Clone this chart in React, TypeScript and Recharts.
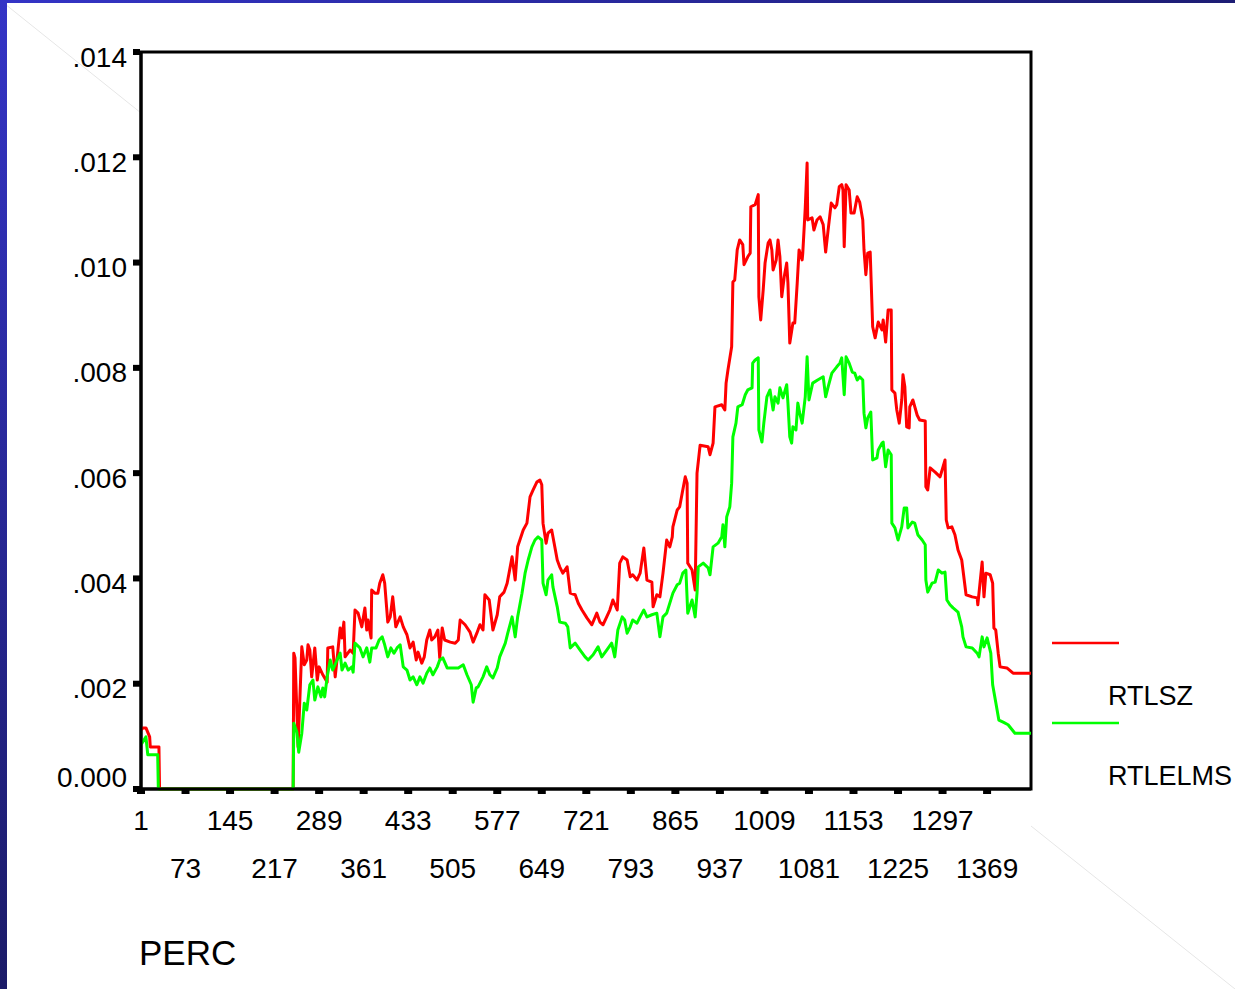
import { LineChart, Line, XAxis, YAxis, ReferenceArea } from "recharts";

const FONT = "'Liberation Sans', Arial, sans-serif";

// PERC positions shown on the axis (every 72nd case)
const percTicks = [
  1, 73, 145, 217, 289, 361, 433, 505, 577, 649, 721, 793, 865, 937, 1009, 1081, 1153, 1225, 1297, 1369,
];
const valueTicks = [0, 0.002, 0.004, 0.006, 0.008, 0.01, 0.012, 0.014];

// RTLSZ (red)
const rtlszPerc = [
  1, 4, 9, 15, 16, 30, 31, 247, 248, 250, 255, 261, 265, 269, 271, 274, 277, 282, 286, 289, 295, 302, 303, 311,
  315, 319, 323, 326, 329, 331, 339, 344, 347, 352, 358, 363, 366, 368, 373, 374, 379, 384, 387, 392, 395, 400,
  404, 408, 413, 420, 425, 431, 436, 441, 446, 449, 455, 459, 463, 468, 471, 476, 481, 484, 488, 492, 501, 509,
  514, 517, 525, 533, 538, 544, 549, 554, 557, 564, 570, 577, 581, 588, 593, 601, 606, 610, 619, 625, 630, 635,
  641, 646, 649, 651, 656, 659, 665, 669, 674, 678, 683, 690, 695, 703, 708, 714, 722, 730, 738, 743, 748, 754,
  759, 764, 771, 775, 780, 787, 792, 796, 803, 808, 814, 819, 827, 829, 835, 840, 845, 851, 856, 860, 861, 868,
  872, 876, 881, 884, 885, 892, 897, 900, 905, 918, 921, 926, 929, 940, 945, 947, 950, 956, 958, 961, 965, 969,
  974, 976, 982, 986, 987, 994, 999, 1000, 1003, 1007, 1010, 1015, 1018, 1021, 1023, 1028, 1031, 1034, 1037,
  1041, 1045, 1047, 1050, 1055, 1058, 1062, 1065, 1070, 1071, 1075, 1078, 1079, 1086, 1089, 1094, 1099, 1104,
  1108, 1112, 1117, 1123, 1126, 1130, 1134, 1136, 1138, 1141, 1146, 1149, 1154, 1159, 1163, 1168, 1170, 1173,
  1176, 1180, 1184, 1188, 1193, 1199, 1201, 1205, 1209, 1214, 1215, 1220, 1223, 1227, 1231, 1233, 1236, 1239,
  1243, 1244, 1249, 1256, 1260, 1269, 1270, 1273, 1277, 1285, 1293, 1301, 1303, 1306, 1312, 1317, 1322, 1328,
  1330, 1335, 1345, 1353, 1354, 1361, 1364, 1367, 1374, 1378, 1380, 1383, 1387, 1390, 1401, 1411, 1440,
];
const rtlszValues = [
  0.00112, 0.00116, 0.00116, 0.00099, 0.0008, 0.0008, 0, 0, 0.00258, 0.00249, 0.0008, 0.0027, 0.00236, 0.00245,
  0.00274, 0.00264, 0.00213, 0.00268, 0.00207, 0.00232, 0.00217, 0.00203, 0.00268, 0.0027, 0.00213, 0.00258,
  0.00306, 0.00287, 0.00317, 0.00251, 0.00264, 0.00258, 0.0034, 0.00334, 0.00308, 0.00344, 0.00302, 0.00321,
  0.00287, 0.00378, 0.00372, 0.00372, 0.00391, 0.00407, 0.00391, 0.00317, 0.00327, 0.00365, 0.00308, 0.00327,
  0.00308, 0.00293, 0.00268, 0.00279, 0.00245, 0.0026, 0.00239, 0.00251, 0.00283, 0.00302, 0.00283, 0.00289,
  0.00302, 0.00249, 0.00306, 0.00283, 0.00279, 0.00277, 0.00283, 0.00321, 0.00312, 0.00298, 0.00279, 0.00296,
  0.00312, 0.00302, 0.00369, 0.00359, 0.00302, 0.00331, 0.00365, 0.00374, 0.00391, 0.00441, 0.00397, 0.0046,
  0.00492, 0.00505, 0.00555, 0.00568, 0.00583, 0.00587, 0.00578, 0.00505, 0.00467, 0.00486, 0.00492, 0.00467,
  0.00435, 0.00422, 0.0041, 0.00422, 0.00372, 0.00369, 0.00353, 0.0034, 0.00325, 0.00312, 0.00334, 0.00317,
  0.00312, 0.00327, 0.0034, 0.00359, 0.0034, 0.00429, 0.00441, 0.00435, 0.00403, 0.00407, 0.00397, 0.0041,
  0.00458, 0.00397, 0.00393, 0.00346, 0.00369, 0.00365, 0.0041, 0.00473, 0.0046, 0.00479, 0.00498, 0.0053,
  0.00536, 0.00562, 0.00593, 0.00581, 0.00429, 0.00416, 0.00378, 0.006, 0.00653, 0.0065, 0.00635, 0.00657,
  0.00726, 0.0073, 0.0072, 0.00771, 0.00796, 0.0084, 0.00963, 0.00967, 0.01024, 0.01043, 0.01034, 0.00996,
  0.01011, 0.01018, 0.01106, 0.0111, 0.01129, 0.00935, 0.00891, 0.00948, 0.00999, 0.01037, 0.01043, 0.01024,
  0.00986, 0.01005, 0.01043, 0.01011, 0.00935, 0.00973, 0.00999, 0.00961, 0.00847, 0.00885, 0.00885, 0.00961,
  0.01024, 0.01005, 0.01018, 0.01104, 0.01189, 0.01081, 0.01085, 0.01062, 0.01081, 0.01087, 0.01072, 0.0102,
  0.01062, 0.01113, 0.01104, 0.0111, 0.01144, 0.01148, 0.01138, 0.0103, 0.01148, 0.01138, 0.01094, 0.01094,
  0.01125, 0.01115, 0.01081, 0.01024, 0.00977, 0.01018, 0.0102, 0.00878, 0.00857, 0.00887, 0.00872, 0.00891,
  0.00849, 0.0091, 0.0091, 0.00758, 0.00752, 0.0072, 0.00695, 0.00739, 0.00787, 0.00764, 0.00688, 0.00686,
  0.00726, 0.00739, 0.0071, 0.00701, 0.00699, 0.00574, 0.00568, 0.0061, 0.00602, 0.00593, 0.00625, 0.00511,
  0.00496, 0.00498, 0.00483, 0.00454, 0.00435, 0.00416, 0.00369, 0.00365, 0.00363, 0.0035, 0.00431, 0.00365,
  0.0041, 0.00407, 0.00391, 0.00306, 0.00302, 0.00258, 0.00232, 0.0023, 0.0022, 0.0022,
];

// RTLELMS (green)
const rtlelmsPerc = [
  1, 9, 12, 28, 29, 247, 248, 253, 256, 261, 265, 269, 274, 279, 282, 287, 292, 295, 298, 302, 307, 311, 318,
  323, 326, 331, 336, 342, 344, 347, 355, 360, 366, 371, 374, 381, 386, 391, 395, 400, 405, 410, 415, 420, 425,
  431, 436, 441, 447, 452, 457, 463, 468, 473, 480, 484, 489, 496, 504, 514, 522, 528, 535, 538, 543, 546, 554,
  560, 565, 570, 577, 581, 590, 594, 601, 606, 610, 617, 622, 627, 633, 638, 643, 649, 651, 656, 659, 665, 667,
  674, 678, 687, 691, 695, 703, 711, 719, 724, 732, 740, 746, 754, 762, 767, 772, 779, 783, 787, 792, 796, 803,
  808, 814, 819, 827, 835, 840, 845, 851, 856, 861, 868, 872, 877, 882, 885, 892, 897, 900, 902, 910, 918, 921,
  926, 934, 940, 942, 945, 948, 953, 956, 958, 963, 966, 973, 978, 982, 989, 990, 994, 999, 1000, 1005, 1008,
  1013, 1018, 1023, 1026, 1031, 1034, 1039, 1045, 1047, 1050, 1053, 1055, 1060, 1063, 1066, 1070, 1075, 1078,
  1081, 1087, 1095, 1104, 1108, 1112, 1118, 1126, 1131, 1134, 1138, 1141, 1146, 1151, 1155, 1159, 1163, 1168,
  1170, 1173, 1176, 1181, 1184, 1191, 1193, 1199, 1201, 1205, 1209, 1214, 1215, 1220, 1225, 1231, 1235, 1239,
  1241, 1248, 1252, 1257, 1264, 1269, 1270, 1273, 1280, 1285, 1290, 1296, 1301, 1304, 1309, 1314, 1322, 1328,
  1330, 1335, 1345, 1353, 1356, 1361, 1364, 1369, 1375, 1378, 1383, 1388, 1395, 1403, 1414, 1440,
];
const rtlelmsValues = [
  0.00084, 0.00099, 0.00065, 0.00065, 0, 0, 0.00125, 0.00108, 0.0007, 0.00106, 0.00163, 0.0015, 0.00198,
  0.00207, 0.00169, 0.00194, 0.00175, 0.00192, 0.00175, 0.00213, 0.00245, 0.00226, 0.00245, 0.00258, 0.00226,
  0.00239, 0.00226, 0.00232, 0.00222, 0.00277, 0.00268, 0.00251, 0.00268, 0.00241, 0.00268, 0.00268, 0.00283,
  0.00289, 0.00274, 0.00251, 0.00268, 0.00258, 0.00268, 0.00274, 0.00232, 0.00226, 0.00207, 0.00213, 0.00198,
  0.00213, 0.00201, 0.0022, 0.0023, 0.00217, 0.00232, 0.00245, 0.00249, 0.0023, 0.0023, 0.0023, 0.00236,
  0.00217, 0.00198, 0.00165, 0.00192, 0.00194, 0.00213, 0.00232, 0.00217, 0.00211, 0.0023, 0.00251, 0.00277,
  0.00296, 0.00327, 0.00289, 0.00327, 0.00372, 0.0041, 0.00435, 0.0046, 0.00473, 0.00479, 0.00473, 0.00391,
  0.00369, 0.00397, 0.00407, 0.00384, 0.00346, 0.00317, 0.00315, 0.00308, 0.00268, 0.00277, 0.00264, 0.00251,
  0.00245, 0.00255, 0.0027, 0.00251, 0.00264, 0.00277, 0.00251, 0.00302, 0.00327, 0.00321, 0.00296, 0.00308,
  0.00321, 0.00315, 0.00327, 0.0034, 0.00327, 0.00331, 0.00334, 0.00289, 0.00327, 0.00334, 0.00353, 0.00372,
  0.00388, 0.00391, 0.0041, 0.00416, 0.00334, 0.00359, 0.00327, 0.00372, 0.00422, 0.00429, 0.0042, 0.00407,
  0.0046, 0.00467, 0.00479, 0.00502, 0.0046, 0.00517, 0.00536, 0.00581, 0.00669, 0.00695, 0.00726, 0.0073,
  0.00749, 0.00758, 0.00762, 0.00809, 0.00815, 0.00819, 0.00682, 0.00659, 0.00695, 0.00745, 0.00758, 0.0072,
  0.00745, 0.00733, 0.00762, 0.00743, 0.00768, 0.00733, 0.00669, 0.00657, 0.00688, 0.00682, 0.00733, 0.00714,
  0.00695, 0.00745, 0.00821, 0.00739, 0.00771, 0.00777, 0.00783, 0.00745, 0.00764, 0.0079, 0.00802, 0.00809,
  0.00819, 0.00749, 0.00821, 0.00809, 0.00792, 0.0079, 0.00777, 0.00783, 0.00777, 0.00714, 0.00686, 0.00705,
  0.00716, 0.00625, 0.00629, 0.00644, 0.00657, 0.00659, 0.00612, 0.00644, 0.00635, 0.00505, 0.00496, 0.00473,
  0.00498, 0.00534, 0.00534, 0.00496, 0.00507, 0.00505, 0.00483, 0.00473, 0.00464, 0.00397, 0.00374, 0.00391,
  0.00393, 0.00416, 0.0041, 0.00412, 0.00359, 0.0035, 0.00344, 0.00336, 0.00308, 0.00289, 0.0027, 0.00268,
  0.00258, 0.00251, 0.00289, 0.0027, 0.00287, 0.00258, 0.00198, 0.00165, 0.00131, 0.00127, 0.00122, 0.00106,
  0.00106,
];

const rtlszData = rtlszPerc.map((perc, i) => ({ perc, value: rtlszValues[i] }));
const rtlelmsData = rtlelmsPerc.map((perc, i) => ({ perc, value: rtlelmsValues[i] }));

const series = [
  { name: "RTLSZ", color: "#ff0000", data: rtlszData },
  { name: "RTLELMS", color: "#00ff00", data: rtlelmsData },
];

function PercTick({ x, y, payload }: any) {
  const row = percTicks.indexOf(payload.value) % 2 === 0 ? 31 : 79;
  return (
    <g>
      <rect x={x - 4} y={y + 1} width={8} height={4} fill="#000" />
      <text
        x={x}
        y={y + row}
        textAnchor="middle"
        dominantBaseline="central"
        fontFamily={FONT}
        fontSize={28}
        fill="#000"
      >
        {payload.value}
      </text>
    </g>
  );
}

function ValueTick({ x, y, payload }: any) {
  const v = payload.value as number;
  const label = v === 0 ? "0.000" : v.toFixed(3).replace(/^0/, "");
  return (
    <g>
      <rect x={x - 8} y={y - 3} width={7} height={6} fill="#000" />
      <text
        x={x - 14}
        y={v === 0 ? y - 12 : y + 5}
        textAnchor="end"
        dominantBaseline="central"
        fontFamily={FONT}
        fontSize={28}
        fill="#000"
      >
        {label}
      </text>
    </g>
  );
}

export default function App() {
  return (
    <div
      style={{
        position: "absolute",
        left: 0,
        top: 0,
        width: 1235,
        height: 989,
        background: "#fff",
        overflow: "hidden",
      }}
    >
      <svg width={1235} height={989} style={{ position: "absolute", left: 0, top: 0 }}>
        <defs>
          <linearGradient id="sideBar" x1="0" y1="0" x2="0" y2="1">
            <stop offset="0" stopColor="#3434c6" />
            <stop offset="1" stopColor="#1b1b68" />
          </linearGradient>
          <linearGradient id="topBar" x1="0" y1="0" x2="1" y2="0">
            <stop offset="0" stopColor="#3434c6" />
            <stop offset="1" stopColor="#1d1d74" />
          </linearGradient>
        </defs>
        <line x1={0} y1={0} x2={141} y2={113} stroke="#e6e6e6" strokeWidth={1} />
        <line x1={1031} y1={826} x2={1235} y2={989} stroke="#e6e6e6" strokeWidth={1} />
        <rect x={0} y={0} width={1235} height={3} fill="url(#topBar)" />
        <rect x={0} y={0} width={7} height={989} fill="url(#sideBar)" />
      </svg>

      <div style={{ position: "absolute", left: 0, top: 0 }}>
        <LineChart width={1235} height={989} margin={{ top: 52, right: 204, bottom: 0, left: 0 }}>
          <XAxis
            type="number"
            dataKey="perc"
            domain={[1, 1440]}
            ticks={percTicks}
            interval={0}
            height={200}
            tickSize={0}
            tickMargin={0}
            tick={<PercTick />}
            axisLine={{ stroke: "#000", strokeWidth: 3 }}
            tickLine={false}
          />
          <YAxis
            type="number"
            domain={[0, 0.014]}
            ticks={valueTicks}
            interval={0}
            width={141}
            tickSize={0}
            tickMargin={0}
            tick={<ValueTick />}
            axisLine={{ stroke: "#000", strokeWidth: 3 }}
            tickLine={false}
          />
          <ReferenceArea
            x1={1}
            x2={1440}
            y1={0}
            y2={0.014}
            fill="none"
            stroke="#000"
            strokeWidth={3}
          />
          {series.map((s) => (
            <Line
              key={s.name}
              data={s.data}
              dataKey="value"
              name={s.name}
              type="linear"
              stroke={s.color}
              strokeWidth={3}
              strokeLinejoin="round"
              dot={false}
              activeDot={false}
              isAnimationActive={false}
            />
          ))}
        </LineChart>
      </div>

      <svg width={1235} height={989} style={{ position: "absolute", left: 0, top: 0, pointerEvents: "none" }}>
        {series.map((s, i) => (
          <g key={s.name}>
            <line x1={1052} x2={1119} y1={643 + i * 80} y2={643 + i * 80} stroke={s.color} strokeWidth={2.5} />
            <text x={1108} y={705 + i * 80} fontFamily={FONT} fontSize={27} fill="#000">
              {s.name}
            </text>
          </g>
        ))}
        <text x={139} y={965} fontFamily={FONT} fontSize={35} fill="#000">
          PERC
        </text>
      </svg>
    </div>
  );
}
